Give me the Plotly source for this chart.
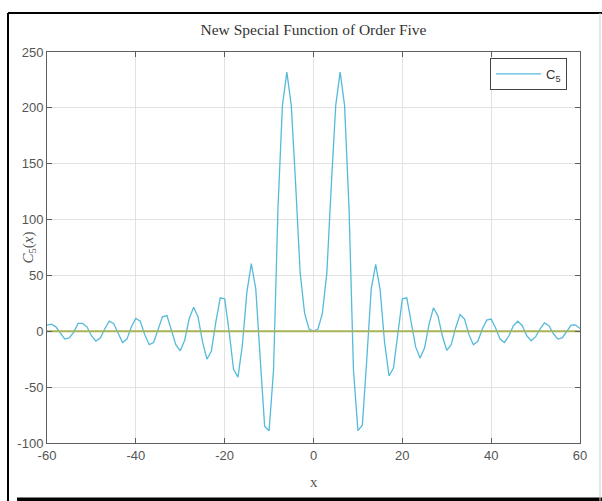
import plotly.graph_objects as go

x_vals = list(range(-60, 61))
c5_vals = [
    5.5, 6.4, 4, -2, -7, -6, -1, 7, 7, 4,            # -60..-51
    -4, -8.8, -6, 2, 9, 7, -2, -10, -7, 4,           # -50..-41
    11.5, 9, -3, -12, -10, 2, 13, 14, 2, -12,        # -40..-31
    -17.5, -8, 11, 21.5, 13, -9, -25, -18, 8, 30,    # -30..-21
    29, 0, -34, -41, -12, 35, 60.5, 38, -24, -85,    # -20..-11
    -89, -35, 110, 202, 232, 202, 130, 52, 16, 2,    # -10..-1
    0,                                               # 0
    2, 16, 52, 130, 202, 232, 202, 110, -35, -89,    # 1..10
    -84, -25, 38, 60, 37, -10, -40, -33, -1, 29,     # 11..20
    30, 8, -14, -24, -15, 6, 21, 14, -4, -17,        # 21..30
    -12, 3, 15, 11, -3, -12, -9, 2, 10, 11,          # 31..40
    3, -7, -10, -4, 5, 9, 5, -4, -8.5, -5,           # 41..50
    2, 7.5, 5, -2, -7, -6, 0, 5.5, 5.8, 2.5,         # 51..60
]
zero_vals = [0 for _ in x_vals]

x_ticks = [-60, -40, -20, 0, 20, 40, 60]
x_tick_labels = ["-60", "-40", "-20", "0", "20", "40", "60"]
y_ticks = [-100, -50, 0, 50, 100, 150, 200, 250]
y_tick_labels = ["-100", "-50", "0", "50", "100", "150", "200", "250"]

title_text = "New Special Function of Order Five"
legend_name = "C<sub>5</sub>"

# layout geometry (pixels)
W, H = 602, 501
L, R, T, B = 47, 580, 52, 443
pw, ph = R - L, B - T

def px(X):
    return (X - L) / pw

def py(Y):
    return (B - Y) / ph

fig = go.Figure()
fig.add_trace(go.Scatter(x=x_vals, y=c5_vals, mode="lines", name=legend_name,
                         line=dict(color="#55badb", width=1.3)))
fig.add_trace(go.Scatter(x=x_vals, y=zero_vals, mode="lines", showlegend=False,
                         line=dict(color="#a9b35a", width=2)))

axis_common = dict(showline=True, linecolor="#5f5f5f", linewidth=1, mirror="ticks",
                   ticks="inside", ticklen=5, tickcolor="#5f5f5f", showgrid=True,
                   gridcolor="#e2e2e2", gridwidth=1, zeroline=False,
                   tickfont=dict(family="Liberation Sans, Arial", size=13, color="#555555"))

fig.update_layout(
    width=W, height=H,
    margin=dict(l=L, r=W - R, t=T, b=H - B),
    paper_bgcolor="white", plot_bgcolor="white",
    xaxis=dict(range=[-60, 60], tickvals=x_ticks, ticktext=x_tick_labels, **axis_common),
    yaxis=dict(range=[-100, 250], tickvals=y_ticks, ticktext=y_tick_labels, **axis_common),
    title=dict(text=title_text, x=0.5, xref="paper", y=1 - 30 / H, yref="container",
               xanchor="center", yanchor="middle",
               font=dict(family="Liberation Serif, serif", size=15.5, color="#333333")),
    legend=dict(x=px(490), y=py(58), xanchor="left", yanchor="top",
                bordercolor="#444444", borderwidth=1, bgcolor="white",
                itemwidth=45, tracegroupgap=0,
                font=dict(family="Liberation Sans, Arial", size=13, color="#333333")),
    showlegend=True,
    annotations=[
        dict(text="<i>C</i><sub>5</sub>(<i>x</i>)", xref="paper", yref="paper",
             x=px(28), y=0.5, textangle=-90, showarrow=False,
             xanchor="center", yanchor="middle",
             font=dict(family="Liberation Serif, serif", size=15, color="#555555")),
        dict(text="x", xref="paper", yref="paper", x=0.5, y=py(482),
             showarrow=False, xanchor="center", yanchor="middle",
             font=dict(family="Liberation Serif, serif", size=15, color="#555555")),
    ],
    shapes=[
        dict(type="line", xref="paper", yref="paper", x0=px(8), x1=px(8), y0=py(13), y1=py(501),
             line=dict(color="black", width=2)),
        dict(type="line", xref="paper", yref="paper", x0=px(8), x1=px(602), y0=py(13), y1=py(13),
             line=dict(color="black", width=2)),
        dict(type="line", xref="paper", yref="paper", x0=px(17), x1=px(602), y0=py(499.5), y1=py(499.5),
             line=dict(color="black", width=4)),
        dict(type="line", xref="paper", yref="paper", x0=px(600), x1=px(600), y0=py(13), y1=py(501),
             line=dict(color="#cfcfcf", width=1)),
    ],
)

fig.write_html("out.html", config={"displayModeBar": False},
               post_script="document.body.style.margin='0';")
